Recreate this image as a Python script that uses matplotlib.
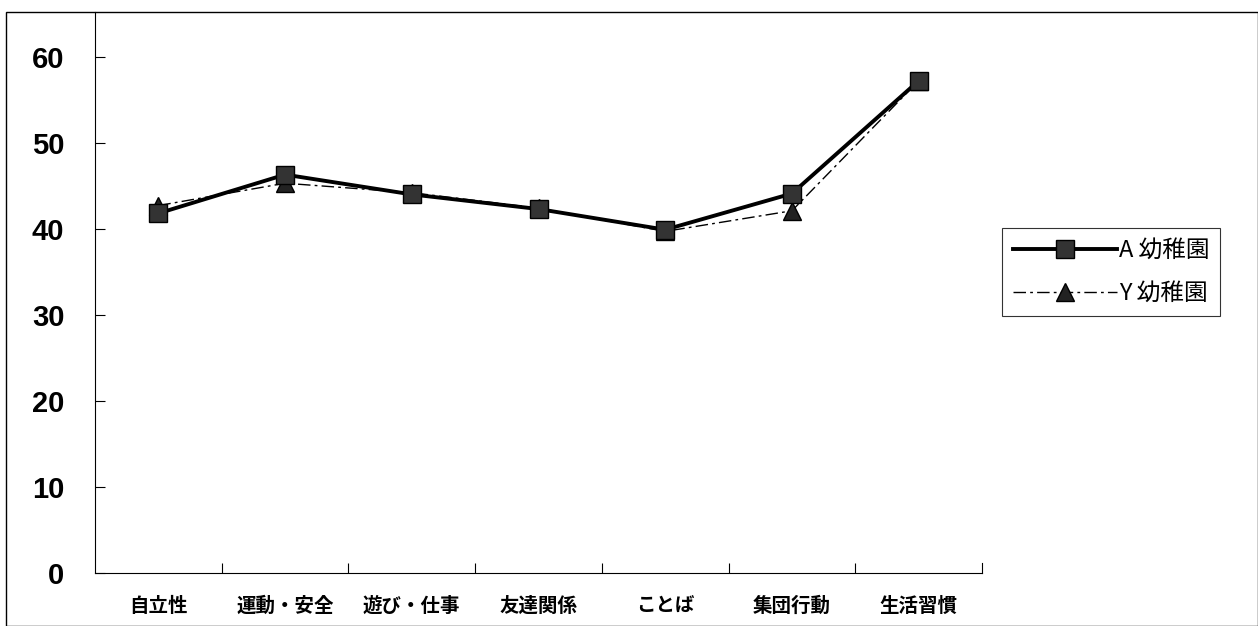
import matplotlib.pyplot as plt
from matplotlib.patches import Rectangle

# data
categories = ['自立性', '運動・安全', '遊び・仕事', '友達関係', 'ことば', '集団行動', '生活習慣']
a_values = [41.8, 46.3, 44.0, 42.3, 39.9, 44.1, 57.2]
y_values = [42.7, 45.3, 44.2, 42.4, 39.7, 42.1, 57.2]
a_label = 'A 幼稚園'
y_label = 'Y 幼稚園'
y_ticks = [0, 10, 20, 30, 40, 50, 60]

jp = ['Noto Sans CJK JP', 'DejaVu Sans']

fig = plt.figure(figsize=(12.58, 6.26), dpi=100)
ax = fig.add_axes([95/1258, 53/626, 887/1258, 561/626])

x = list(range(len(categories)))
ax.plot(x, y_values, color='black', lw=1, dashes=(9, 3, 2, 3),
        marker='^', ms=13, mfc='#222222', mec='black', label=y_label)
ax.plot(x, a_values, color='black', lw=2.8, marker='s', ms=12.5,
        mfc='#333333', mec='black', label=a_label)

ax.set_xlim(-0.5, len(categories) - 0.5)
ax.set_ylim(0, 65.2)

ax.set_yticks(y_ticks)
ax.set_yticklabels([str(v) for v in y_ticks], family='Liberation Sans',
                   fontweight='bold', fontsize=21)
ax.tick_params(axis='y', direction='in', length=7, width=0.8, pad=22)

ax.set_xticks([i + 0.5 for i in x[:-1]], minor=False)
ax.set_xticklabels([])
ax.tick_params(axis='x', direction='in', length=7, width=0.8)
ax.set_xticks(x, minor=True)
ax.set_xticklabels(categories, minor=True, family=jp, fontsize=14,
                   fontweight='bold')
ax.tick_params(axis='x', which='minor', length=0, pad=17)

ax.spines['top'].set_visible(False)
ax.spines['right'].set_visible(False)
ax.spines['left'].set_linewidth(0.8)
ax.spines['bottom'].set_linewidth(0.8)
# end tick on right of x axis
ax.plot([len(categories) - 0.5] * 2, [0, 1.2], color='black', lw=0.8, clip_on=False)

handles, labels = ax.get_legend_handles_labels()
leg = fig.legend(handles[::-1], labels[::-1], loc='center left',
                 bbox_to_anchor=(1002/1258, (626 - 272)/626),
                 prop={'family': jp, 'size': 17}, frameon=True, fancybox=False,
                 edgecolor='black', handlelength=4.4, handletextpad=0.1,
                 borderpad=0.45, labelspacing=0.85, borderaxespad=0)
leg.get_frame().set_linewidth(0.8)

# outer frame of the chart area
fig.patches.append(Rectangle((6/1258, 0), 1 - 6/1258, (626 - 12)/626,
                             transform=fig.transFigure, fill=False,
                             edgecolor='black', lw=1))

fig.savefig('out.png', dpi=100)
